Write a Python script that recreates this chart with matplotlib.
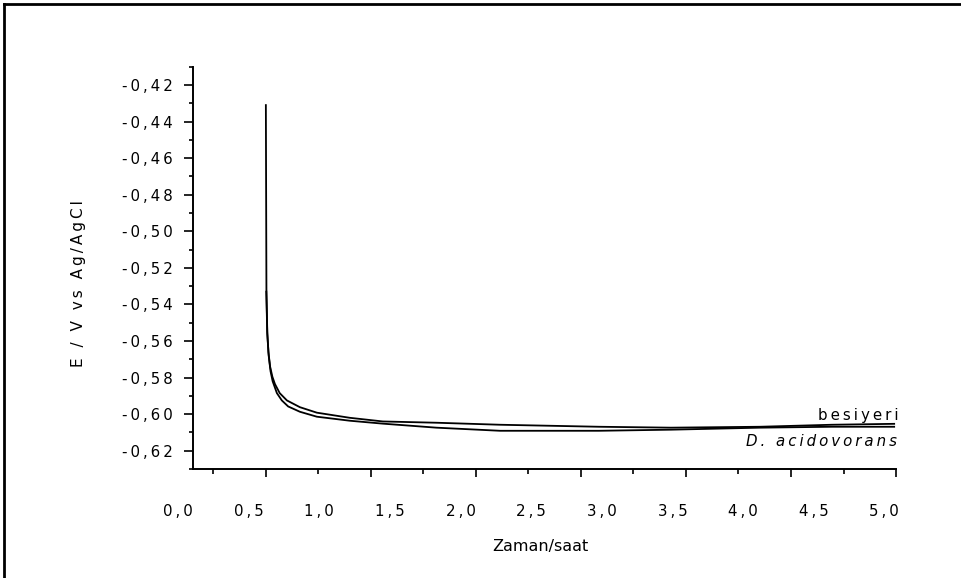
import numpy as np
import matplotlib
matplotlib.use("Agg")
import matplotlib.pyplot as plt
from matplotlib.lines import Line2D

plt.rcParams['font.family'] = ['DejaVu Sans']

# Open-circuit potential vs time (hours)
t_besiyeri = [0.622, 0.626, 0.632, 0.640, 0.652, 0.668, 0.686, 0.720, 0.771, 0.863, 0.983,
              1.216, 1.450, 1.830, 2.280, 2.980, 3.490, 4.120, 4.630, 5.070]
e_besiyeri = [-0.431, -0.532, -0.555, -0.566, -0.574, -0.5795, -0.5835, -0.5885, -0.5925, -0.5962,
              -0.5992, -0.6020, -0.6040, -0.6047, -0.6058, -0.6069, -0.6074, -0.6069, -0.6058, -0.6053]

t_dacido = [0.625, 0.632, 0.642, 0.655, 0.670, 0.700, 0.735, 0.780, 0.863, 0.983, 1.216,
            1.450, 1.830, 2.280, 2.980, 3.490, 4.120, 4.630, 5.070]
e_dacido = [-0.533, -0.556, -0.568, -0.5765, -0.582, -0.5885, -0.5925, -0.5958, -0.5987, -0.6014,
            -0.6036, -0.6052, -0.6074, -0.6091, -0.6091, -0.6085, -0.6074, -0.6069, -0.6069]

x_ticks = [0.0, 0.5, 1.0, 1.5, 2.0, 2.5, 3.0, 3.5, 4.0, 4.5, 5.0]
x_ticklabels = ["0,0", "0,5", "1,0", "1,5", "2,0", "2,5", "3,0", "3,5", "4,0", "4,5", "5,0"]
y_ticks = [-0.42, -0.44, -0.46, -0.48, -0.50, -0.52, -0.54, -0.56, -0.58, -0.60, -0.62]
y_ticklabels = ["-0,42", "-0,44", "-0,46", "-0,48", "-0,50", "-0,52", "-0,54", "-0,56",
                "-0,58", "-0,60", "-0,62"]

series_labels = ["besiyeri", "D. acidovorans"]


def spaced(text, gap="\u2009"):
    return gap.join(text)


W, H = 961, 578
fig = plt.figure(figsize=(W / 100, H / 100), dpi=100)

# outer frame (top and left edges visible)
fig.add_artist(Line2D([4 / W, 1.0], [1 - 4 / H, 1 - 4 / H], transform=fig.transFigure,
                      color="black", lw=2.0))
fig.add_artist(Line2D([4 / W, 4 / W], [0.0, 1 - 4 / H], transform=fig.transFigure,
                      color="black", lw=2.0))

x0_px, x1_px = 178, 897
y_top_px, y_bot_px = 66.7, 469
ax = fig.add_axes([x0_px / W, 1 - y_bot_px / H, (x1_px - x0_px) / W, (y_bot_px - y_top_px) / H])

ax.plot(t_besiyeri, e_besiyeri, color="black", lw=1.3)
ax.plot(t_dacido, e_dacido, color="black", lw=1.3)

ax.set_xlim(0.0, 5.09)
ax.set_ylim(-0.63, -0.41)

for s in ("top", "right"):
    ax.spines[s].set_visible(False)
ax.spines["left"].set_position(("data", 0.106))
ax.spines["bottom"].set_bounds(0.106, 5.084)
ax.spines["left"].set_linewidth(1.4)
ax.spines["bottom"].set_linewidth(1.4)

# y axis ticks
ax.set_yticks(y_ticks)
ax.set_yticklabels([spaced(s) for s in y_ticklabels])
ax.set_yticks(np.arange(-0.63, -0.405, 0.02), minor=True)
ax.tick_params(axis="y", which="major", direction="out", length=6.5, width=1.2,
               labelsize=10.8, pad=8)
ax.tick_params(axis="y", which="minor", direction="out", length=3, width=1.2)

# x axis labels (tick marks drawn by a secondary axis)
ax.set_xticks(x_ticks)
ax.set_xticklabels([spaced(s) for s in x_ticklabels])
ax.tick_params(axis="x", which="major", length=0, labelsize=10.8, pad=25)

step = 0.372
t0 = 0.2475
long_marks = [t0 + step * k for k in range(1, 14, 2)]
short_marks = [t0 + step * k for k in range(0, 13, 2)]
sec = ax.secondary_xaxis("bottom")
sec.spines["bottom"].set_visible(False)
sec.set_xticks(long_marks)
sec.set_xticks(short_marks, minor=True)
sec.tick_params(axis="x", which="major", direction="out", length=6, width=1.2,
                labelbottom=False)
sec.tick_params(axis="x", which="minor", direction="out", length=3.5, width=1.2,
                labelbottom=False)

ax.set_xlabel("Zaman/saat", fontsize=11.5)
ax.xaxis.set_label_coords((540 - x0_px) / (x1_px - x0_px), (y_bot_px - 547) / (y_bot_px - y_top_px),
                          transform=ax.transAxes)
ax.xaxis.label.set_va("center")
ax.set_ylabel(spaced("E / V vs Ag/AgCl"), fontsize=11)
ax.yaxis.set_label_coords((79 - x0_px) / (x1_px - x0_px), (y_bot_px - 284) / (y_bot_px - y_top_px),
                          transform=ax.transAxes)
ax.yaxis.label.set_va("center")

ax.text(5.105, -0.6007, spaced(series_labels[0]), ha="right", va="center", fontsize=10.8,
        clip_on=False)
ax.text(5.09, -0.6151, spaced(series_labels[1]), ha="right", va="center", fontsize=10.8,
        style="italic", clip_on=False)

fig.savefig("out.png", dpi=100)
